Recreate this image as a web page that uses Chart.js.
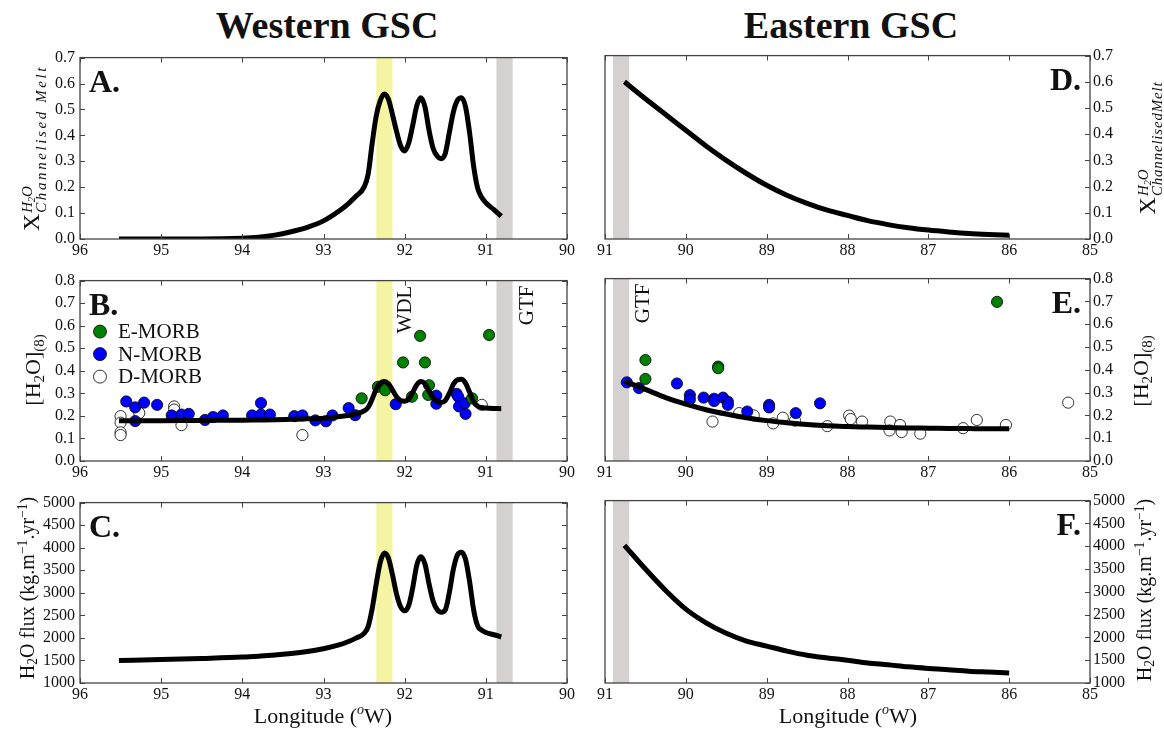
<!DOCTYPE html>
<html>
<head>
<meta charset="utf-8">
<script src="https://cdn.jsdelivr.net/npm/chart.js@4.4.1/dist/chart.umd.min.js"></script>
<style>
html, body { margin: 0; padding: 0; background: #fff; }
body { width: 1164px; height: 731px; position: relative; overflow: hidden; font-family: 'Liberation Serif', serif; color: #111; }
canvas { position: absolute; }
.title { position: absolute; top: 6px; font-weight: bold; font-size: 38px; line-height: 1; transform: translateX(-50%); white-space: nowrap; }
.xlab { position: absolute; top: 705px; font-size: 22px; line-height: 1; transform: translateX(-50%); white-space: nowrap; }
.xlab i { font-size: 14px; vertical-align: 9px; line-height: 0; }
.ylab { position: absolute; transform: translate(-50%, -50%) rotate(-90deg); white-space: nowrap; line-height: 1; }
.ss { display: inline-flex; flex-direction: column; vertical-align: 7px; font-size: 15px; line-height: 14px; font-style: italic; margin-left: 1px; }
.ss .two { font-size: 10px; vertical-align: -3px; line-height: 0; }
.s { font-size: 0.68em; vertical-align: -0.25em; line-height: 0; }
.p { font-size: 0.68em; vertical-align: 0.5em; line-height: 0; }
</style>
</head>
<body>
<div class="title" style="left:327px">Western GSC</div>
<div class="title" style="left:851px">Eastern GSC</div>

<canvas id="chartA" width="600" height="226" style="left:0;top:43px"></canvas>
<canvas id="chartB" width="600" height="225" style="left:0;top:266px"></canvas>
<canvas id="chartC" width="600" height="225" style="left:0;top:488px"></canvas>
<canvas id="chartD" width="584" height="226" style="left:580px;top:43px"></canvas>
<canvas id="chartE" width="584" height="225" style="left:580px;top:266px"></canvas>
<canvas id="chartF" width="584" height="225" style="left:580px;top:488px"></canvas>

<div class="ylab" style="left:33px;top:148px;font-size:24px">X<span class="ss"><span>H<span class="two">2</span>O</span><span style="letter-spacing:2.6px">Channelised Melt</span></span></div>
<div class="ylab" style="left:33px;top:370px;font-size:22px">[H<span class="s">2</span>O]<span class="s">(8)</span></div>
<div class="ylab" style="left:27px;top:588px;font-size:20px">H<span class="s">2</span>O flux (kg.m<span class="p">−1</span>.yr<span class="p">−1</span>)</div>

<div class="ylab" style="left:1149px;top:148px;font-size:24px">X<span class="ss"><span>H<span class="two">2</span>O</span><span style="letter-spacing:0.8px">ChannelisedMelt</span></span></div>
<div class="ylab" style="left:1141px;top:371px;font-size:22px">[H<span class="s">2</span>O]<span class="s">(8)</span></div>
<div class="ylab" style="left:1144px;top:590px;font-size:20px">H<span class="s">2</span>O flux (kg.m<span class="p">−1</span>.yr<span class="p">−1</span>)</div>

<div class="xlab" style="left:323px">Longitude (<i>o</i>W)</div>
<div class="xlab" style="left:848px">Longitude (<i>o</i>W)</div>

<script>
// model curves, western GSC (longitude in degrees W)
const lonWest = [95.52, 95.0, 94.5, 94.0, 93.8, 93.6, 93.4, 93.2, 93.0, 92.8, 92.7, 92.6, 92.5, 92.45, 92.4, 92.35, 92.3, 92.25, 92.2, 92.15, 92.1, 92.05, 92.0, 91.95, 91.9, 91.85, 91.8, 91.75, 91.7, 91.65, 91.6, 91.55, 91.5, 91.45, 91.4, 91.35, 91.3, 91.25, 91.2, 91.15, 91.1, 91.05, 91.0, 90.9, 90.81];
const meltWest = [0, 0, 0, 0.003, 0.007, 0.015, 0.028, 0.045, 0.07, 0.11, 0.135, 0.165, 0.2, 0.25, 0.37, 0.475, 0.535, 0.56, 0.54, 0.48, 0.415, 0.36, 0.34, 0.37, 0.44, 0.515, 0.545, 0.51, 0.42, 0.35, 0.32, 0.31, 0.33, 0.41, 0.49, 0.535, 0.545, 0.51, 0.41, 0.28, 0.195, 0.16, 0.14, 0.113, 0.088];
const waterWest = [0.178, 0.179, 0.18, 0.181, 0.182, 0.183, 0.185, 0.187, 0.19, 0.197, 0.202, 0.209, 0.222, 0.238, 0.275, 0.32, 0.345, 0.352, 0.343, 0.315, 0.285, 0.268, 0.265, 0.275, 0.305, 0.338, 0.352, 0.342, 0.31, 0.28, 0.264, 0.26, 0.268, 0.3, 0.34, 0.36, 0.362, 0.345, 0.305, 0.262, 0.243, 0.237, 0.235, 0.233, 0.232];
const fluxWest = [1500, 1520, 1545, 1575, 1595, 1620, 1655, 1700, 1760, 1850, 1915, 1995, 2100, 2250, 2650, 3200, 3680, 3880, 3770, 3400, 2970, 2690, 2600, 2720, 3120, 3620, 3800, 3640, 3200, 2820, 2630, 2570, 2620, 3000, 3520, 3840, 3900, 3740, 3250, 2620, 2260, 2170, 2120, 2070, 2020];

// model curves, eastern GSC
const lonEast = [90.76, 90.5, 90.25, 90.0, 89.75, 89.5, 89.25, 89.0, 88.75, 88.5, 88.25, 88.0, 87.75, 87.5, 87.25, 87.0, 86.75, 86.5, 86.25, 86.0];
const meltEast = [0.60, 0.535, 0.475, 0.415, 0.355, 0.30, 0.25, 0.205, 0.167, 0.136, 0.11, 0.09, 0.07, 0.055, 0.043, 0.034, 0.027, 0.021, 0.017, 0.014];
const waterEast = [0.35, 0.314, 0.278, 0.249, 0.225, 0.206, 0.19, 0.177, 0.168, 0.16, 0.155, 0.151, 0.149, 0.147, 0.145, 0.144, 0.143, 0.142, 0.141, 0.141];
const fluxEast = [4020, 3500, 3030, 2620, 2320, 2090, 1920, 1810, 1700, 1610, 1550, 1500, 1440, 1400, 1355, 1320, 1290, 1260, 1240, 1220];

// glass samples [H2O](8)
const eMorbWestLon = [92.53, 92.33, 92.24, 92.02, 91.81, 91.75, 91.70, 91.71, 91.91, 91.17, 90.96];
const eMorbWestVal = [0.278, 0.329, 0.314, 0.437, 0.555, 0.437, 0.336, 0.293, 0.285, 0.278, 0.559];
const nMorbWestLon = [95.43, 95.32, 95.32, 95.21, 95.05, 94.87, 94.75, 94.66, 94.46, 94.36, 94.24, 93.88, 93.77, 93.77, 93.66, 93.36, 93.26, 93.10, 92.97, 92.89, 92.69, 92.61, 92.11, 91.61, 91.61, 91.36, 91.34, 91.33, 91.26, 91.25];
const nMorbWestVal = [0.264, 0.238, 0.177, 0.259, 0.249, 0.202, 0.206, 0.209, 0.182, 0.195, 0.202, 0.202, 0.257, 0.206, 0.206, 0.199, 0.202, 0.18, 0.176, 0.202, 0.235, 0.203, 0.252, 0.29, 0.254, 0.298, 0.285, 0.242, 0.256, 0.209];
const dMorbWestLon = [95.5, 95.5, 95.5, 95.5, 95.27, 94.84, 94.84, 94.75, 93.26, 91.05];
const dMorbWestVal = [0.199, 0.17, 0.127, 0.115, 0.213, 0.242, 0.228, 0.159, 0.115, 0.249];

const eMorbEastLon = [90.5, 90.5, 89.6, 89.6, 86.15];
const eMorbEastVal = [0.443, 0.36, 0.414, 0.407, 0.698];
const nMorbEastLon = [90.73, 90.58, 90.11, 89.95, 89.95, 89.78, 89.65, 89.65, 89.54, 89.48, 89.48, 89.24, 88.97, 88.97, 88.64, 88.34];
const nMorbEastVal = [0.345, 0.32, 0.34, 0.289, 0.27, 0.278, 0.273, 0.263, 0.278, 0.26, 0.246, 0.217, 0.246, 0.235, 0.21, 0.253];
const dMorbEastLon = [89.67, 89.34, 89.16, 88.92, 88.8, 88.65, 88.25, 87.98, 87.96, 87.82, 87.47, 87.48, 87.35, 87.33, 87.1, 86.57, 86.4, 86.04, 85.27];
const dMorbEastVal = [0.173, 0.21, 0.2, 0.165, 0.19, 0.177, 0.153, 0.199, 0.184, 0.173, 0.173, 0.134, 0.158, 0.127, 0.12, 0.144, 0.18, 0.158, 0.256];

// shaded zones (longitude ranges)
const wdlBand = [92.35, 92.15];
const gtfBandWest = [90.87, 90.67];
const gtfBandEast = [90.9, 90.7];

const FONT = '"Liberation Serif", serif';
const pts = (xs, ys) => xs.map((x, i) => ({ x: x, y: ys[i] }));

// bands, frame with inward ticks, panel letter, notes and legend
const decor = {
    id: 'decor',
    beforeDatasetsDraw(chart, args, o) {
        const { ctx, chartArea: a, scales: { x } } = chart;
        ctx.save();
        (o.bands || []).forEach(b => {
            const x1 = x.getPixelForValue(b.range[0]);
            const x2 = x.getPixelForValue(b.range[1]);
            ctx.fillStyle = b.color;
            ctx.fillRect(Math.min(x1, x2), a.top, Math.abs(x2 - x1), a.bottom - a.top);
        });
        ctx.restore();
    },
    afterDraw(chart, args, o) {
        const { ctx, chartArea: a, scales: { x, y } } = chart;
        ctx.save();
        ctx.fillStyle = '#111';

        (o.notes || []).forEach(n => {
            ctx.save();
            ctx.font = '21px ' + FONT;
            ctx.translate(x.getPixelForValue(n.lon), a.top + 5);
            ctx.rotate(-Math.PI / 2);
            ctx.textAlign = 'right';
            ctx.textBaseline = 'alphabetic';
            ctx.fillText(n.text, 0, 0);
            ctx.restore();
        });

        if (o.legend) {
            let ly = a.top + 51;
            chart.data.datasets.filter(d => d.label).forEach(d => {
                ctx.beginPath();
                ctx.arc(a.left + 20, ly, 6.5, 0, Math.PI * 2);
                ctx.fillStyle = d.backgroundColor;
                ctx.fill();
                ctx.lineWidth = 0.8;
                ctx.strokeStyle = '#000';
                ctx.stroke();
                ctx.fillStyle = '#111';
                ctx.font = '21px ' + FONT;
                ctx.textAlign = 'left';
                ctx.textBaseline = 'middle';
                ctx.fillText(d.label, a.left + 38, ly + 1);
                ly += 22.5;
            });
        }

        ctx.font = 'bold 32px ' + FONT;
        ctx.textBaseline = 'alphabetic';
        ctx.fillStyle = '#111';
        if (o.side === 'left') {
            ctx.textAlign = 'left';
            ctx.fillText(o.letter, a.left + 9, a.top + 34);
        } else {
            ctx.textAlign = 'right';
            ctx.fillText(o.letter, a.right - 9, a.top + 34);
        }

        ctx.strokeStyle = '#444';
        ctx.lineWidth = 1.3;
        ctx.strokeRect(a.left, a.top, a.right - a.left, a.bottom - a.top);
        ctx.lineWidth = 1;
        ctx.beginPath();
        x.ticks.forEach(t => {
            const px = Math.round(x.getPixelForValue(t.value)) + 0.5;
            ctx.moveTo(px, a.bottom); ctx.lineTo(px, a.bottom - 5);
            ctx.moveTo(px, a.top); ctx.lineTo(px, a.top + 5);
        });
        y.ticks.forEach(t => {
            const py = Math.round(y.getPixelForValue(t.value)) + 0.5;
            if (o.side === 'left') { ctx.moveTo(a.left, py); ctx.lineTo(a.left + 5, py); }
            ctx.moveTo(a.right, py); ctx.lineTo(a.right - 5, py);
        });
        ctx.stroke();
        ctx.restore();
    }
};

function lineSet(xs, ys) {
    return {
        data: pts(xs, ys),
        showLine: true,
        borderColor: '#000',
        borderWidth: 5,
        pointRadius: 0,
        cubicInterpolationMode: 'monotone',
        borderCapStyle: 'butt',
        order: 0
    };
}

function sampleSet(label, color, xs, ys, order) {
    return {
        label: label,
        data: pts(xs, ys),
        backgroundColor: color,
        borderColor: '#000',
        borderWidth: 0.8,
        pointRadius: 5.6,
        order: order
    };
}

function makeChart(id, cfg) {
    const left = cfg.side === 'left';
    return new Chart(document.getElementById(id), {
        type: 'scatter',
        data: { datasets: cfg.datasets },
        options: {
            responsive: false,
            animation: false,
            devicePixelRatio: 1,
            events: [],
            layout: { padding: left ? { top: 10, right: 33, left: 0, bottom: 0 } : { top: 10, right: 0, left: 25, bottom: 0 } },
            plugins: {
                legend: { display: false },
                tooltip: { enabled: false },
                decor: { side: cfg.side, letter: cfg.letter, bands: cfg.bands, notes: cfg.notes, legend: cfg.legend }
            },
            scales: {
                x: {
                    type: 'linear',
                    min: cfg.xRange[0],
                    max: cfg.xRange[1],
                    reverse: true,
                    grid: { display: false, drawTicks: false },
                    border: { display: false },
                    ticks: { stepSize: 1, padding: 2, autoSkip: false, maxRotation: 0, color: '#111', font: { family: FONT, size: 16 } },
                    afterFit: s => { s.height = 30; }
                },
                y: {
                    type: 'linear',
                    position: left ? 'left' : 'right',
                    min: cfg.yRange[0],
                    max: cfg.yRange[1],
                    grid: { display: false, drawTicks: false },
                    border: { display: false },
                    ticks: {
                        stepSize: cfg.yStep,
                        padding: left ? 5 : 3,
                        autoSkip: false,
                        color: '#111',
                        font: { family: FONT, size: 16 },
                        callback: cfg.yFormat
                    },
                    afterFit: s => { s.width = left ? 80 : 74; }
                }
            }
        },
        plugins: [decor]
    });
}

const oneDecimal = v => v.toFixed(1);
const whole = v => String(v);
const westBands = [{ range: wdlBand, color: '#f4f4a2' }, { range: gtfBandWest, color: '#d5d1d1' }];
const eastBands = [{ range: gtfBandEast, color: '#d5d1d1' }];

makeChart('chartA', {
    side: 'left', letter: 'A.', xRange: [90, 96], yRange: [0, 0.7], yStep: 0.1, yFormat: oneDecimal,
    bands: westBands,
    datasets: [lineSet(lonWest, meltWest)]
});

makeChart('chartB', {
    side: 'left', letter: 'B.', xRange: [90, 96], yRange: [0, 0.8], yStep: 0.1, yFormat: oneDecimal,
    bands: westBands, legend: true,
    notes: [{ text: 'WDL', lon: 91.92 }, { text: 'GTF', lon: 90.42 }],
    datasets: [
        lineSet(lonWest, waterWest),
        sampleSet('E-MORB', '#008000', eMorbWestLon, eMorbWestVal, 1),
        sampleSet('N-MORB', '#0000ff', nMorbWestLon, nMorbWestVal, 2),
        sampleSet('D-MORB', '#ffffff', dMorbWestLon, dMorbWestVal, 3)
    ]
});

makeChart('chartC', {
    side: 'left', letter: 'C.', xRange: [90, 96], yRange: [1000, 5000], yStep: 500, yFormat: whole,
    bands: westBands,
    datasets: [lineSet(lonWest, fluxWest)]
});

makeChart('chartD', {
    side: 'right', letter: 'D.', xRange: [85, 91], yRange: [0, 0.7], yStep: 0.1, yFormat: oneDecimal,
    bands: eastBands,
    datasets: [lineSet(lonEast, meltEast)]
});

makeChart('chartE', {
    side: 'right', letter: 'E.', xRange: [85, 91], yRange: [0, 0.8], yStep: 0.1, yFormat: oneDecimal,
    bands: eastBands,
    notes: [{ text: 'GTF', lon: 90.46 }],
    datasets: [
        lineSet(lonEast, waterEast),
        sampleSet('E-MORB', '#008000', eMorbEastLon, eMorbEastVal, 1),
        sampleSet('N-MORB', '#0000ff', nMorbEastLon, nMorbEastVal, 2),
        sampleSet('D-MORB', '#ffffff', dMorbEastLon, dMorbEastVal, 3)
    ]
});

makeChart('chartF', {
    side: 'right', letter: 'F.', xRange: [85, 91], yRange: [1000, 5000], yStep: 500, yFormat: whole,
    bands: eastBands,
    datasets: [lineSet(lonEast, fluxEast)]
});
</script>
</body>
</html>
